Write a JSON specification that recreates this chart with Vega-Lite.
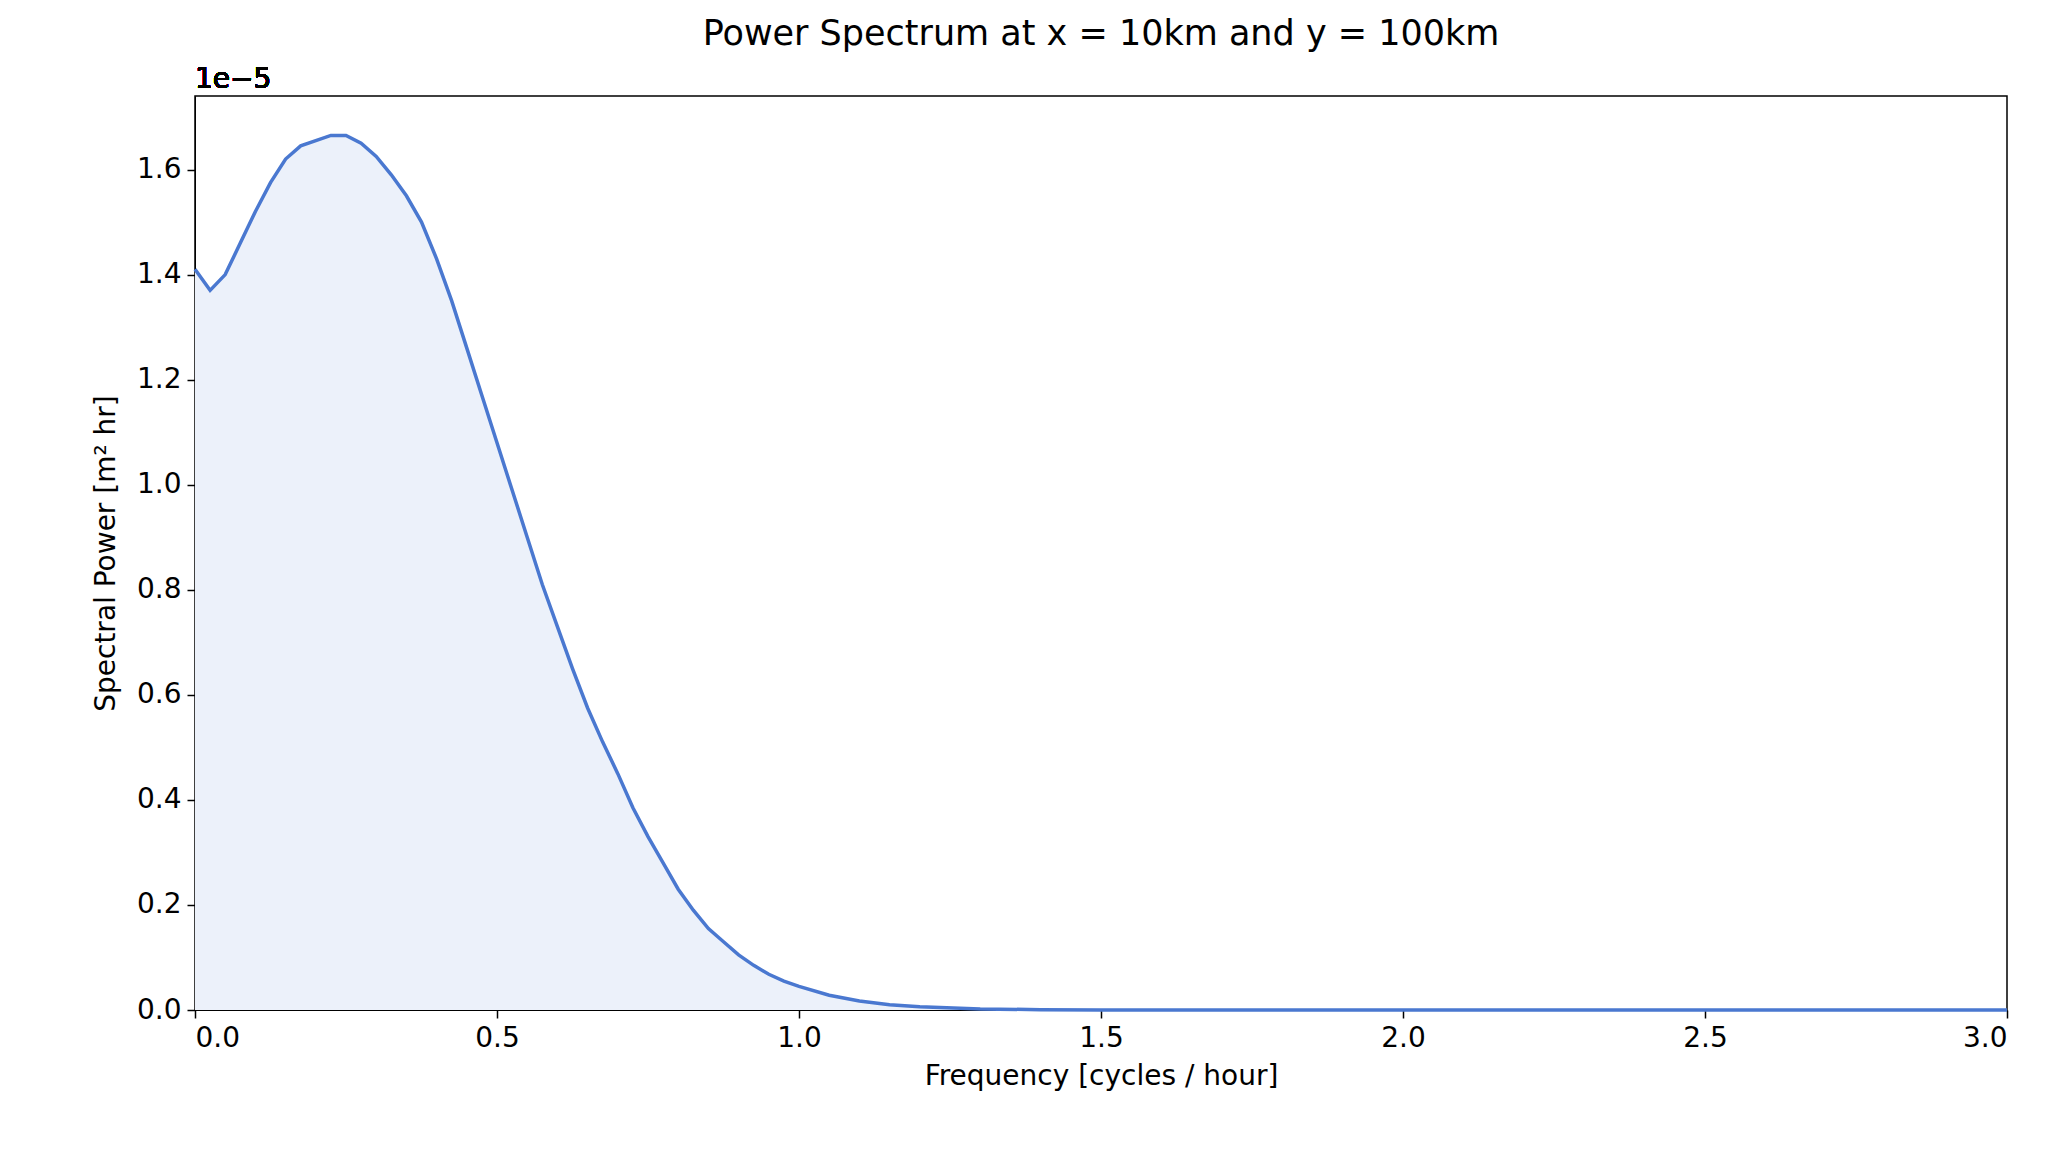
{
"$schema":"https://vega.github.io/schema/vega-lite/v6.json",
"width":1812,"height":914,
"autosize":{"type":"none"},
"padding":{"left":195,"top":96,"right":63,"bottom":160},
"background":"white",
"config":{"font":"DejaVu Sans","view":{"stroke":"black","strokeWidth":1.5},
"axis":{"labelFont":"DejaVu Sans","titleFont":"DejaVu Sans","labelFontSize":28,"titleFontSize":28,"titleFontWeight":"normal","labelColor":"black","titleColor":"black","domainColor":"black","tickColor":"black","tickSize":8,"tickWidth":1.5,"grid":false,"labelPadding":6}},
"title":{"text":"Power Spectrum at x = 10km and y = 100km","fontSize":35,"fontWeight":"normal","font":"DejaVu Sans","offset":14},
"data":{"values":[
{"f":0,"p":1.41},{"f":0.025,"p":1.37},{"f":0.05,"p":1.40},{"f":0.075,"p":1.46},{"f":0.1,"p":1.52},{"f":0.125,"p":1.575},{"f":0.15,"p":1.62},{"f":0.175,"p":1.645},{"f":0.2,"p":1.655},{"f":0.225,"p":1.665},{"f":0.25,"p":1.665},{"f":0.275,"p":1.65},{"f":0.3,"p":1.625},{"f":0.325,"p":1.59},{"f":0.35,"p":1.55},{"f":0.375,"p":1.50},{"f":0.4,"p":1.43},{"f":0.425,"p":1.35},{"f":0.45,"p":1.26},{"f":0.475,"p":1.17},{"f":0.5,"p":1.08},{"f":0.525,"p":0.99},{"f":0.55,"p":0.90},{"f":0.575,"p":0.81},{"f":0.6,"p":0.73},{"f":0.625,"p":0.65},{"f":0.65,"p":0.575},{"f":0.675,"p":0.51},{"f":0.7,"p":0.45},{"f":0.725,"p":0.385},{"f":0.75,"p":0.33},{"f":0.775,"p":0.28},{"f":0.8,"p":0.23},{"f":0.825,"p":0.19},{"f":0.85,"p":0.155},{"f":0.875,"p":0.13},{"f":0.9,"p":0.105},{"f":0.925,"p":0.085},{"f":0.95,"p":0.068},{"f":0.975,"p":0.055},{"f":1.0,"p":0.045},{"f":1.05,"p":0.028},{"f":1.1,"p":0.017},{"f":1.15,"p":0.01},{"f":1.2,"p":0.006},{"f":1.3,"p":0.002},{"f":1.4,"p":0.0007},{"f":1.5,"p":0.0002},{"f":2.0,"p":0},{"f":3.0,"p":0}
]},
"layer":[
{"mark":{"type":"area","color":"#ecf1fa"},
"encoding":{"x":{"field":"f","type":"quantitative","scale":{"domain":[0,3],"nice":false},"axis":{"values":[0,0.5,1,1.5,2,2.5,3],"format":".1f","title":"Frequency [cycles / hour]","titlePadding":10}},
"y":{"field":"p","type":"quantitative","scale":{"domain":[0,1.74],"nice":false},"axis":{"values":[0,0.2,0.4,0.6,0.8,1,1.2,1.4,1.6],"format":".1f","title":"Spectral Power [m² hr]","titlePadding":16}}}},
{"mark":{"type":"line","color":"#4a78d0","strokeWidth":3.5},
"encoding":{"x":{"field":"f","type":"quantitative"},"y":{"field":"p","type":"quantitative"}}},
{"mark":{"type":"text","text":"1e−5","fontSize":28,"fontWeight":"normal","align":"left","baseline":"bottom","dy":-2,"font":"DejaVu Sans"},
"encoding":{"x":{"datum":0},"y":{"datum":1.74}}}
]
}
